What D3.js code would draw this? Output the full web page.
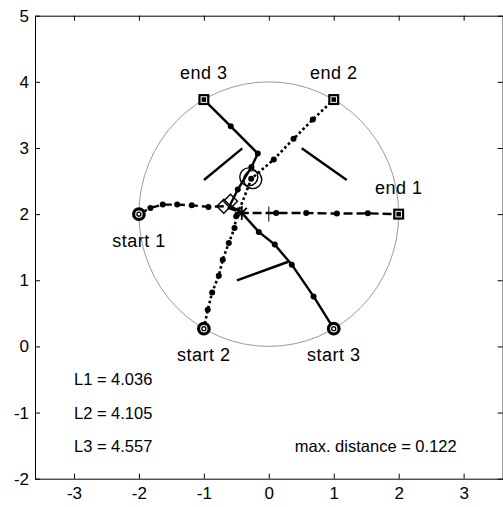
<!DOCTYPE html>
<html>
<head>
<meta charset="utf-8">
<script src="https://cdn.jsdelivr.net/npm/d3@7"></script>
<style>
  html, body { margin: 0; padding: 0; background: #fff; }
  text { font-family: "Liberation Sans", Arial, sans-serif; }
</style>
</head>
<body>
<svg id="chart"></svg>
<script>
// axis ticks
const xTicks = [-3, -2, -1, 0, 1, 2, 3];
const yTicks = [-2, -1, 0, 1, 2, 3, 4, 5];

// start / end points on the circle
const starts = [[-2, 2], [-1, 0.268], [1, 0.268]];
const ends = [[2, 2], [1, 3.732], [-1, 3.732]];
const startLabels = ["start 1", "start 2", "start 3"];
const endLabels = ["end 1", "end 2", "end 3"];

// paths: [x, y, hasDot]
const path1 = [[-2, 2, 0], [-1.823, 2.094, 1], [-1.633, 2.144, 1], [-1.411, 2.144, 1], [-1.186, 2.133, 1],
  [-0.929, 2.109, 1], [-0.69, 2.12, 0], [-0.416, 2.018, 0], [0.114, 2.018, 1], [0.576, 2.018, 1],
  [1.048, 2.008, 1], [1.525, 2.012, 1], [2, 2, 0]];
const path2 = [[-1, 0.268, 0], [-0.94, 0.555, 1], [-0.872, 0.817, 1], [-0.77, 1.07, 1], [-0.709, 1.312, 1],
  [-0.616, 1.564, 1], [-0.528, 1.791, 1], [-0.502, 1.967, 1], [-0.4, 2.2, 0], [-0.271, 2.533, 1],
  [0.077, 2.826, 1], [0.381, 3.138, 1], [0.678, 3.43, 1], [1, 3.732, 0]];
const path3 = [[1, 0.268, 0], [0.689, 0.756, 1], [0.354, 1.236, 1], [0.092, 1.539, 1], [-0.154, 1.731, 1],
  [-0.416, 2.018, 0], [-0.6, 2.13, 0], [-0.478, 2.371, 1], [-0.267, 2.714, 1], [-0.169, 2.915, 1],
  [-0.586, 3.328, 1], [-1, 3.732, 0]];

// short marker segments
const segments = [
  [[-0.998, 2.516], [-0.408, 2.995]],
  [[0.507, 2.995], [1.2, 2.516]],
  [[-0.49, 1.0], [0.3, 1.28]]
];
const diamonds = [[-0.693, 2.118], [-0.59, 2.193]];
const rings = [[-0.308, 2.563], [-0.247, 2.522]];
const meetPoint = [-0.416, 2.018];
const crossPoint = [0, 2];
const circleCenter = [0, 2];
const circleRadius = 2;

// annotations
const noteTexts = ["L1 = 4.036", "L2 = 4.105", "L3 = 4.557"];
const noteY = [-0.5, -1, -1.5];
const distanceText = "max. distance = 0.122";

const width = 503;
const height = 507;
const fontSize = 16.5;
const tickFont = 17;
const pointFont = 18;

const svg = d3.select("#chart").attr("width", width).attr("height", height);
svg.append("rect").attr("width", width).attr("height", height).attr("fill", "#fff");

const x = d3.scaleLinear().domain([-3.6, 3.6]).range([35, 502.6]);
const y = d3.scaleLinear().domain([-2, 5]).range([478.7, 15.7]);

const fmt = (d) => String(d);

// axes box with inward ticks
const styleAxis = (g) => {
  g.selectAll("path").attr("stroke", "#000").attr("stroke-width", 1);
  g.selectAll("line").attr("stroke", "#000").attr("stroke-width", 1);
  g.selectAll("text").attr("fill", "#000").style("font-size", tickFont + "px")
    .style("font-family", '"Liberation Sans", Arial, sans-serif');
};

svg.append("g").attr("transform", `translate(0,${y(-2)})`)
  .call(d3.axisBottom(x).tickValues(xTicks).tickFormat(fmt).tickSizeInner(-5).tickSizeOuter(0).tickPadding(8))
  .call(styleAxis);
svg.append("g").attr("transform", `translate(0,${y(5)})`)
  .call(d3.axisTop(x).tickValues(xTicks).tickSizeInner(-5).tickSizeOuter(0).tickFormat(""))
  .call(styleAxis);
svg.append("g").attr("transform", `translate(${x(-3.6)},0)`)
  .call(d3.axisLeft(y).tickValues(yTicks).tickFormat(fmt).tickSizeInner(-5).tickSizeOuter(0).tickPadding(6))
  .call(styleAxis);
svg.append("g").attr("transform", `translate(${x(3.6)},0)`)
  .call(d3.axisRight(y).tickValues(yTicks).tickSizeInner(-5).tickSizeOuter(0).tickFormat(""))
  .call(styleAxis);

// guide circle
svg.append("ellipse")
  .attr("cx", x(circleCenter[0]))
  .attr("cy", y(circleCenter[1]))
  .attr("rx", x(circleRadius) - x(0))
  .attr("ry", y(0) - y(circleRadius))
  .attr("fill", "none")
  .attr("stroke", "#9a9a9a")
  .attr("stroke-width", 1);

// short segments
svg.selectAll(".seg")
  .data(segments)
  .enter()
  .append("line")
  .attr("class", "seg")
  .attr("x1", (d) => x(d[0][0]))
  .attr("y1", (d) => y(d[0][1]))
  .attr("x2", (d) => x(d[1][0]))
  .attr("y2", (d) => y(d[1][1]))
  .attr("stroke", "#000")
  .attr("stroke-width", 2.4);

const line = d3.line().x((d) => x(d[0])).y((d) => y(d[1]));

const paths = [
  { pts: path1, dash: "9,4", w: 2.4 },
  { pts: path2, dash: "2.6,2.6", w: 2.6 },
  { pts: path3, dash: null, w: 2.4 }
];

paths.forEach((p) => {
  svg.append("path")
    .attr("d", line(p.pts))
    .attr("fill", "none")
    .attr("stroke", "#000")
    .attr("stroke-width", p.w)
    .attr("stroke-dasharray", p.dash);
  svg.selectAll(null)
    .data(p.pts.filter((d) => d[2]))
    .enter()
    .append("circle")
    .attr("cx", (d) => x(d[0]))
    .attr("cy", (d) => y(d[1]))
    .attr("r", 3)
    .attr("fill", "#000");
});

// small vertical tick at the crossing
svg.append("line")
  .attr("x1", x(crossPoint[0])).attr("x2", x(crossPoint[0]))
  .attr("y1", y(crossPoint[1]) - 7.5).attr("y2", y(crossPoint[1]) + 7.5)
  .attr("stroke", "#000").attr("stroke-width", 1);

// diamonds
svg.selectAll(".diamond")
  .data(diamonds)
  .enter()
  .append("path")
  .attr("class", "diamond")
  .attr("transform", (d) => `translate(${x(d[0])},${y(d[1])})`)
  .attr("d", "M0,-7L7,0L0,7L-7,0Z")
  .attr("fill", "none")
  .attr("stroke", "#000")
  .attr("stroke-width", 1.4);

// rings
svg.selectAll(".ring")
  .data(rings)
  .enter()
  .append("circle")
  .attr("class", "ring")
  .attr("cx", (d) => x(d[0]))
  .attr("cy", (d) => y(d[1]))
  .attr("r", 9)
  .attr("fill", "none")
  .attr("stroke", "#000")
  .attr("stroke-width", 1.4);

// asterisk at meeting point
const star = svg.append("g")
  .attr("transform", `translate(${x(meetPoint[0])},${y(meetPoint[1])})`);
[[-7, 0, 7, 0], [0, -7, 0, 7], [-5, -5, 5, 5], [-5, 5, 5, -5]].forEach((s) => {
  star.append("line")
    .attr("x1", s[0]).attr("y1", s[1]).attr("x2", s[2]).attr("y2", s[3])
    .attr("stroke", "#000").attr("stroke-width", 1.8);
});

// start markers
const sm = svg.selectAll(".start")
  .data(starts)
  .enter()
  .append("g")
  .attr("class", "start")
  .attr("transform", (d) => `translate(${x(d[0])},${y(d[1])})`);
sm.append("circle").attr("r", 5.3).attr("fill", "#fff").attr("stroke", "#000").attr("stroke-width", 3.2);
sm.append("circle").attr("r", 2).attr("fill", "none").attr("stroke", "#000").attr("stroke-width", 1.3);

// end markers
const em = svg.selectAll(".end")
  .data(ends)
  .enter()
  .append("g")
  .attr("class", "end")
  .attr("transform", (d) => `translate(${x(d[0])},${y(d[1])})`);
em.append("rect").attr("x", -5.5).attr("y", -5.5).attr("width", 11).attr("height", 11).attr("fill", "#000");
em.append("rect").attr("x", -2.8).attr("y", -2.8).attr("width", 5.6).attr("height", 5.6)
  .attr("fill", "none").attr("stroke", "#fff").attr("stroke-width", 1);

// labels
const label = (tx, ty, str, anchor, size, spacing) =>
  svg.append("text")
    .attr("x", tx)
    .attr("y", ty)
    .attr("text-anchor", anchor)
    .attr("dominant-baseline", "central")
    .style("font-size", size + "px")
    .style("letter-spacing", spacing + "px")
    .attr("fill", "#000")
    .text(str);

starts.forEach((d, i) => label(x(d[0]), y(d[1] - 0.4), startLabels[i], "middle", pointFont, 0.5));
ends.forEach((d, i) => label(x(d[0]), y(d[1] + 0.4), endLabels[i], "middle", pointFont, 0.5));
noteTexts.forEach((t, i) => label(x(-3), y(noteY[i]), t, "start", fontSize, 0));
label(x(0.4), y(-1.5), distanceText, "start", fontSize, 0);
</script>
</body>
</html>
